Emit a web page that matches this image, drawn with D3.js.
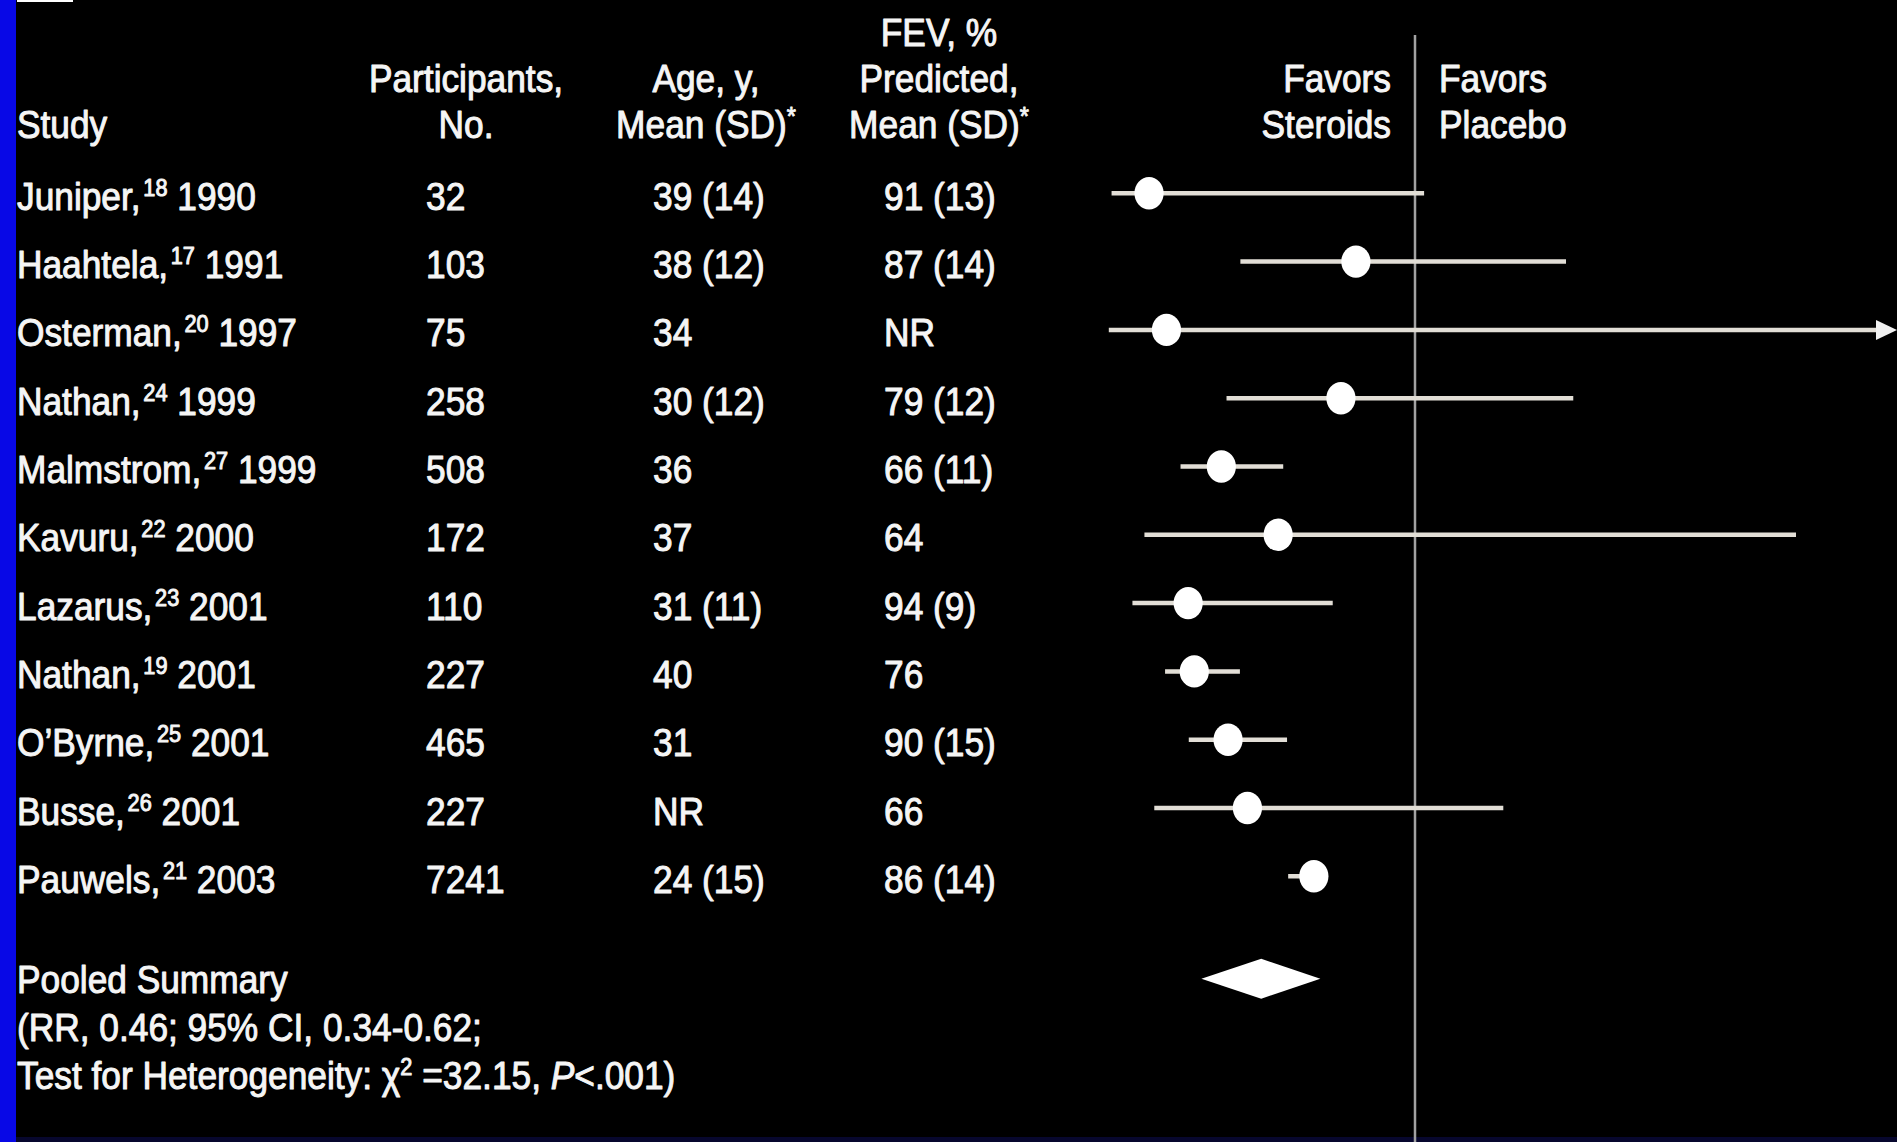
<!DOCTYPE html>
<html>
<head>
<meta charset="utf-8">
<script src="https://cdn.jsdelivr.net/npm/d3@7"></script>
<style>
  html, body { margin: 0; padding: 0; background: #000; overflow: hidden; }
  svg { display: block; }
  text { font-family: "Liberation Sans", Arial, Helvetica, sans-serif; fill: #f5f5f5; }
</style>
</head>
<body>
<svg id="chart" width="1897" height="1142"></svg>
<script>
// ---- Study table ----
const studyNames   = ["Juniper,", "Haahtela,", "Osterman,", "Nathan,", "Malmstrom,", "Kavuru,",
                      "Lazarus,", "Nathan,", "O’Byrne,", "Busse,", "Pauwels,"];
const refNumbers   = ["18", "17", "20", "24", "27", "22", "23", "19", "25", "26", "21"];
const studyYears   = ["1990", "1991", "1997", "1999", "1999", "2000", "2001", "2001", "2001", "2001", "2003"];
const participants = ["32", "103", "75", "258", "508", "172", "110", "227", "465", "227", "7241"];
const ageMeanSD    = ["39 (14)", "38 (12)", "34", "30 (12)", "36", "37", "31 (11)", "40", "31", "NR", "24 (15)"];
const fevMeanSD    = ["91 (13)", "87 (14)", "NR", "79 (12)", "66 (11)", "64", "94 (9)", "76", "90 (15)", "66", "86 (14)"];

// ---- Relative risk with 95% CI per study ----
const riskRatio = [0.261, 0.742, 0.285, 0.688, 0.376, 0.501, 0.318, 0.328, 0.389, 0.429, 0.600];
const ciLower   = [0.216, 0.414, 0.213, 0.386, 0.306, 0.255, 0.240, 0.283, 0.319, 0.268, 0.527];
const ciUpper   = [1.047, 2.144, 15.0,  2.224, 0.514, 6.850, 0.660, 0.413, 0.524, 1.562, 0.632];

// ---- Pooled estimate ----
const pooledRR = 0.46, pooledLower = 0.34, pooledUpper = 0.62;
const heterogeneityChi2 = "32.15", heterogeneityP = "<.001";

// ---- Column headings ----
const headStudy        = ["Study"];
const headParticipants = ["Participants,", "No."];
const headAge          = ["Age, y,", "Mean (SD)"];
const headFev          = ["FEV, %", "Predicted,", "Mean (SD)"];
const favorsLeft       = ["Favors", "Steroids"];
const favorsRight      = ["Favors", "Placebo"];

// ---- Drawing ----
const W = 1897, H = 1142;
const svg = d3.select("#chart");
const FONT = 39, SUP = 24, SQUEEZE = 0.905;

svg.append("rect").attr("width", W).attr("height", H).attr("fill", "#000");
// slide frame: blue band on the left, navy strip at the foot
svg.append("rect").attr("x", 0).attr("y", 0).attr("width", 16).attr("height", H).attr("fill", "#0808e6");
svg.append("rect").attr("x", 16).attr("y", H - 5).attr("width", W - 16).attr("height", 5).attr("fill", "#07072e");
svg.append("rect").attr("x", 17).attr("y", 0).attr("width", 56).attr("height", 2).attr("fill", "#ffffff");

// Log scale of the relative risk, RR = 1 at the "no effect" line
const pxPerUnit = 198;          // pixels per natural-log unit
const refX = 1415;
const x = d3.scaleLog()
  .domain([0.1, 10])
  .range([refX - pxPerUnit * Math.LN10, refX + pxPerUnit * Math.LN10]);
const plotRight = W;            // intervals running past this edge end in an arrow

const y = d3.scaleLinear().domain([0, 10]).range([193.3, 876.3]);
const rows = d3.range(studyNames.length);

function label(parent, px, py, anchor) {
  return parent.append("text")
    .attr("transform", `translate(${px},${py}) scale(${SQUEEZE},1)`)
    .attr("text-anchor", anchor || "start")
    .attr("font-size", FONT)
    .attr("stroke", "#f5f5f5").attr("stroke-width", 1.0)
    .attr("stroke-linejoin", "round");
}

// headings (bottom-aligned on three lines)
const headBase = [45.5, 91.5, 137.5];
function heading(lines, px, anchor, starLast) {
  const off = headBase.length - lines.length;
  lines.forEach((s, i) => {
    const t = label(svg, px, headBase[off + i], anchor);
    t.append("tspan").text(s);
    if (starLast && s.startsWith("Mean")) {
      t.append("tspan").attr("font-size", 26).attr("dy", -13).text("*");
    }
  });
}
heading(headStudy, 17, "start");
heading(headParticipants, 466, "middle");
heading(headAge, 706, "middle", true);
heading(headFev, 939, "middle", true);
heading(favorsLeft, 1391, "end");
heading(favorsRight, 1439, "start");

// table rows
const textDy = 16.5;
rows.forEach(i => {
  const base = y(i) + textDy;
  const t = label(svg, 17, base, "start");
  t.append("tspan").text(studyNames[i]);
  t.append("tspan").attr("font-size", SUP).attr("dx", 3).attr("dy", -14).text(refNumbers[i]);
  t.append("tspan").attr("dy", 14).text("\u00a0" + studyYears[i]);
  label(svg, 426, base, "start").text(participants[i]);
  label(svg, 653, base, "start").text(ageMeanSD[i]);
  label(svg, 884, base, "start").text(fevMeanSD[i]);
});

// no-effect reference line
svg.append("line")
  .attr("x1", x(1)).attr("x2", x(1))
  .attr("y1", 35).attr("y2", H)
  .attr("stroke", "#a2a2a2").attr("stroke-width", 2.5);

// confidence intervals
const arrowLen = 21, arrowHalf = 10;
const ci = svg.append("g");
rows.forEach(i => {
  const hiX = x(ciUpper[i]);
  const clipped = hiX > plotRight;
  ci.append("line")
    .attr("x1", x(ciLower[i]))
    .attr("x2", clipped ? plotRight - arrowLen + 2 : hiX)
    .attr("y1", y(i)).attr("y2", y(i))
    .attr("stroke", "#e2ded6").attr("stroke-width", 4.5);
  if (clipped) {
    ci.append("path")
      .attr("d", `M${plotRight - arrowLen},${y(i) - arrowHalf}L${plotRight},${y(i)}L${plotRight - arrowLen},${y(i) + arrowHalf}Z`)
      .attr("fill", "#f0f0f0");
  }
});

// point estimates
svg.append("g").selectAll("ellipse")
  .data(rows)
  .join("ellipse")
  .attr("cx", i => x(riskRatio[i]))
  .attr("cy", i => y(i))
  .attr("rx", 14.6).attr("ry", 16.2)
  .attr("fill", "#ffffff");

// pooled summary diamond
const yPool = y(11.5);
const dHalf = 20;
svg.append("path")
  .attr("d", `M${x(pooledLower)},${yPool}L${x(pooledRR)},${yPool - dHalf}L${x(pooledUpper)},${yPool}L${x(pooledRR)},${yPool + dHalf}Z`)
  .attr("fill", "#ffffff");

// pooled summary text
const p1 = label(svg, 17, 993, "start");
p1.text("Pooled Summary");
const p2 = label(svg, 17, 1041, "start");
p2.text(`(RR, ${pooledRR.toFixed(2)}; 95% CI, ${pooledLower.toFixed(2)}-${pooledUpper.toFixed(2)};`);
const p3 = label(svg, 17, 1089, "start");
p3.append("tspan").text("Test for Heterogeneity: \u03c7");
p3.append("tspan").attr("font-size", 24).attr("dy", -14).text("2");
p3.append("tspan").attr("dy", 14).text(` =${heterogeneityChi2}, `);
p3.append("tspan").attr("font-style", "italic").text("P");
p3.append("tspan").text(`${heterogeneityP})`);
</script>
</body>
</html>
